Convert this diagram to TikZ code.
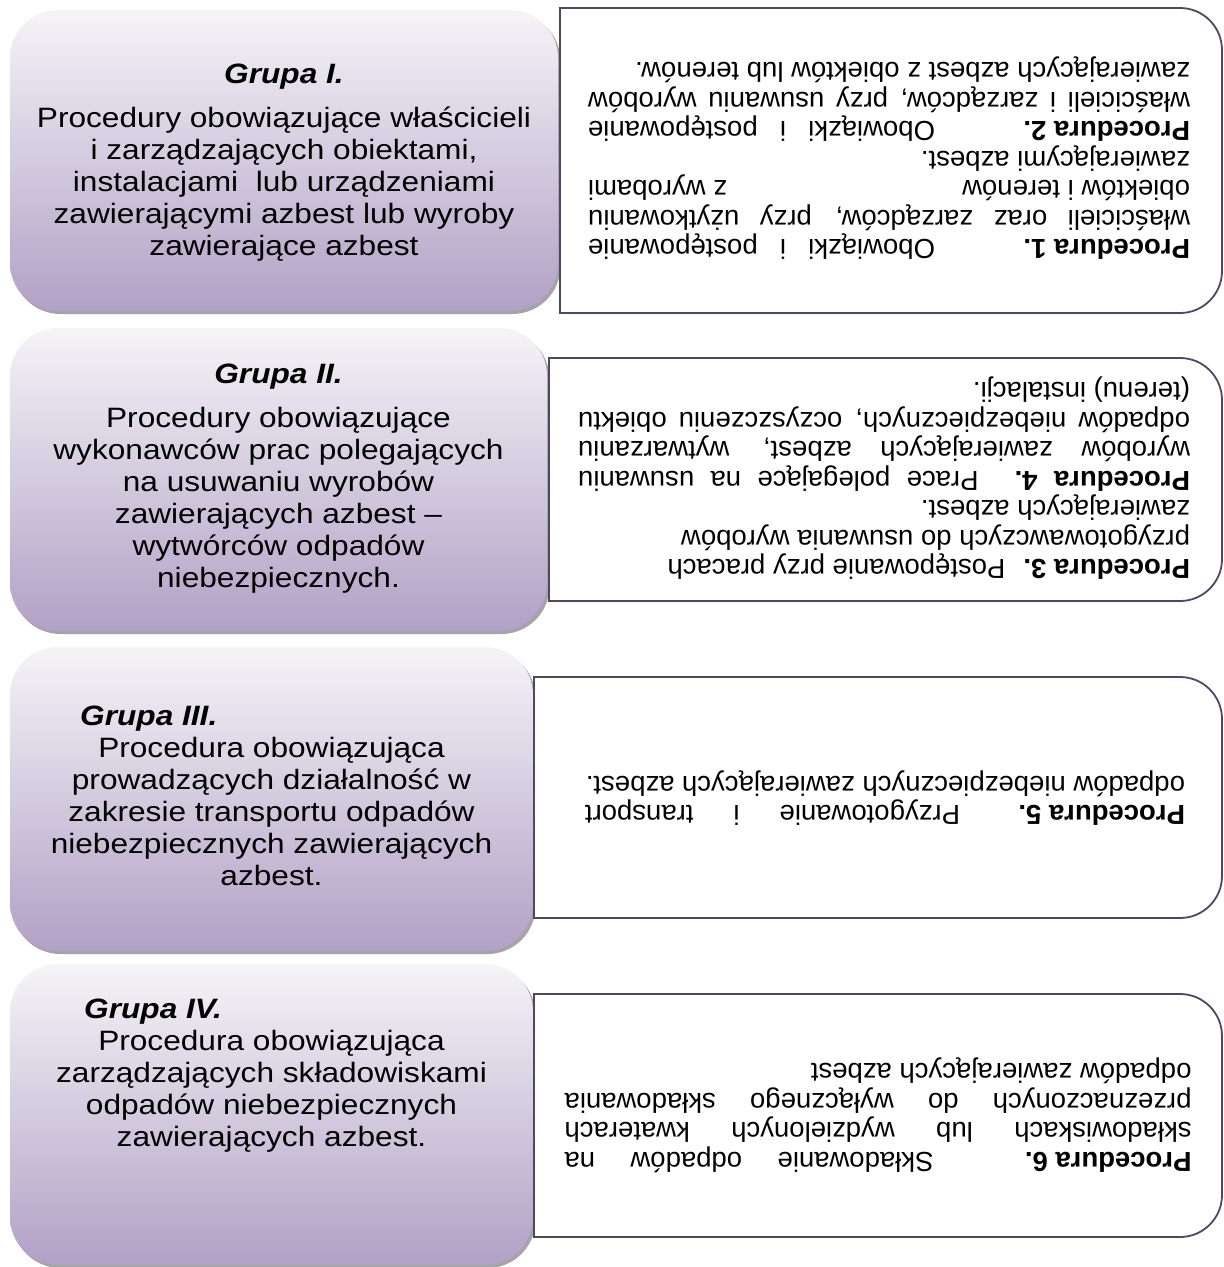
\documentclass[tikz,border=0pt]{standalone}
\usepackage{fontspec}
\setmainfont{Liberation Sans}
\usetikzlibrary{shadows}
\definecolor{gtop}{RGB}{245,244,247}
\definecolor{gbot}{RGB}{177,161,198}
\definecolor{rfcol}{RGB}{80,70,104}
\definecolor{shad}{RGB}{165,165,165}
\newcommand\LF{\fontsize{28}{32}\selectfont}
\newcommand\RF{\fontsize{27.5}{29.5}\selectfont}
\newcommand\grp[1]{\textbf{\textit{#1}}}
\newlength\rw
\newlength\rt
\newcommand\jl[1]{\makebox[\rw][s]{#1}}
\newcommand\tabl[2]{\makebox[\rw][s]{\makebox[\rt][l]{\textbf{#1}}#2}}
\newcommand\hs[1]{\scalebox{1.13}[1]{#1}}
\tikzset{
  lbox/.style={rounded corners=48pt, top color=gtop, bottom color=gbot, inner sep=0pt, draw=none,
    drop shadow={shadow xshift=2.5pt, shadow yshift=-3pt, fill=shad, opacity=1}},
  rframe/.style={draw=rfcol, line width=1.8pt, fill=white},
  ltext/.style={inner sep=0pt, anchor=base, font=\LF},
  gtext/.style={inner sep=0pt, anchor=base west, font=\LF},
  rtext/.style={inner sep=0pt, font=\RF},
}
\begin{document}
\begin{tikzpicture}[x=1pt,y=1pt]
\useasboundingbox (0,0) rectangle (1224,-1267);
\fill[white] (0,0) rectangle (1224,-1267);

% left boxes
\node[lbox, minimum width=548pt, minimum height=301pt] (l1) at (284,-160.5) {};
\node[lbox, minimum width=537pt, minimum height=303pt] (l2) at (278.5,-479.5) {};
\node[lbox, minimum width=523pt, minimum height=304pt] (l3) at (271.5,-799) {};
\node[lbox, minimum width=523pt, minimum height=301pt] (l4) at (271.5,-1114.5) {};

% right frames
\draw[rframe] (560,-8) -- (1180,-8) arc[start angle=90,end angle=0,radius=42] -- (1222,-271) arc[start angle=0,end angle=-90,radius=42] -- (560,-313) -- cycle;
\draw[rframe] (549,-358) -- (1180,-358) arc[start angle=90,end angle=0,radius=42] -- (1222,-559) arc[start angle=0,end angle=-90,radius=42] -- (549,-601) -- cycle;
\draw[rframe] (534,-677) -- (1180,-677) arc[start angle=90,end angle=0,radius=42] -- (1222,-876) arc[start angle=0,end angle=-90,radius=42] -- (534,-918) -- cycle;
\draw[rframe] (534,-994) -- (1180,-994) arc[start angle=90,end angle=0,radius=42] -- (1222,-1195) arc[start angle=0,end angle=-90,radius=42] -- (534,-1237) -- cycle;

% left texts
\node[ltext] (t1) at (284,-83) {\hs{\begin{tabular}[t]{@{}c@{}}\grp{Grupa I.}\\[12pt]
Procedury obowiązujące właścicieli\\
i zarządzających obiektami,\\
instalacjami\ \ lub urządzeniami\\
zawierającymi azbest lub wyroby\\
zawierające azbest\end{tabular}}};

\node[ltext] (t2) at (278.5,-383) {\hs{\begin{tabular}[t]{@{}c@{}}\grp{Grupa II.}\\[12pt]
Procedury obowiązujące\\
wykonawców prac polegających\\
na usuwaniu wyrobów\\
zawierających azbest –\\
wytwórców odpadów\\
niebezpiecznych.\end{tabular}}};

\node[gtext] (g3) at (80,-725) {\hs{\grp{Grupa III.}}};
\node[ltext] (t3) at (271.5,-757) {\hs{\begin{tabular}[t]{@{}c@{}}Procedura obowiązująca\\
prowadzących działalność w\\
zakresie transportu odpadów\\
niebezpiecznych zawierających\\
azbest.\end{tabular}}};

\node[gtext] (g4) at (84,-1018) {\hs{\grp{Grupa IV.}}};
\node[ltext] (t4) at (271.5,-1050) {\hs{\begin{tabular}[t]{@{}c@{}}Procedura obowiązująca\\
zarządzających składowiskami\\
odpadów niebezpiecznych\\
zawierających azbest.\end{tabular}}};

% right texts (upside down)
\node[rtext] (p1) at (889,-157) {\rotatebox{180}{\setlength\rw{602pt}\setlength\rt{255pt}\begin{tabular}{@{}l@{}}
\tabl{Procedura 1.}{Obowiązki i postępowanie}\\
\jl{właścicieli oraz zarządców, przy użytkowaniu}\\
\jl{obiektów~i~terenów\hfill z~wyrobami}\\
zawierającymi azbest.\\
\tabl{Procedura 2.}{Obowiązki i postępowanie}\\
\jl{właścicieli i zarządców, przy usuwaniu wyrobów}\\
zawierających azbest z obiektów lub terenów.
\end{tabular}}};

\node[rtext] (p2) at (884,-477) {\rotatebox{180}{\setlength\rw{612pt}\begin{tabular}{@{}l@{}}
\textbf{Procedura 3.}\hspace{18pt}Postępowanie przy pracach\\
przygotowawczych do usuwania wyrobów\\
zawierających azbest.\\
\jl{\textbf{Procedura 4.} Prace polegające na usuwaniu}\\
\jl{wyrobów zawierających azbest, wytwarzaniu}\\
\jl{odpadów niebezpiecznych, oczyszczeniu obiektu}\\
(terenu) instalacji.
\end{tabular}}};

\node[rtext] (p3) at (885,-797) {\rotatebox{180}{\setlength\rw{600pt}\setlength\rt{225pt}\begin{tabular}{@{}l@{}}
\tabl{Procedura 5.}{Przygotowanie i transport}\\
odpadów niebezpiecznych zawierających azbest.
\end{tabular}}};

\node[rtext] (p4) at (878,-1114) {\rotatebox{180}{\setlength\rw{627pt}\setlength\rt{258pt}\begin{tabular}{@{}l@{}}
\tabl{Procedura 6.}{Składowanie odpadów na}\\
\jl{składowiskach lub wydzielonych kwaterach}\\
\jl{przeznaczonych do wyłącznego składowania}\\
odpadów zawierających azbest
\end{tabular}}};
\end{tikzpicture}
\end{document}
